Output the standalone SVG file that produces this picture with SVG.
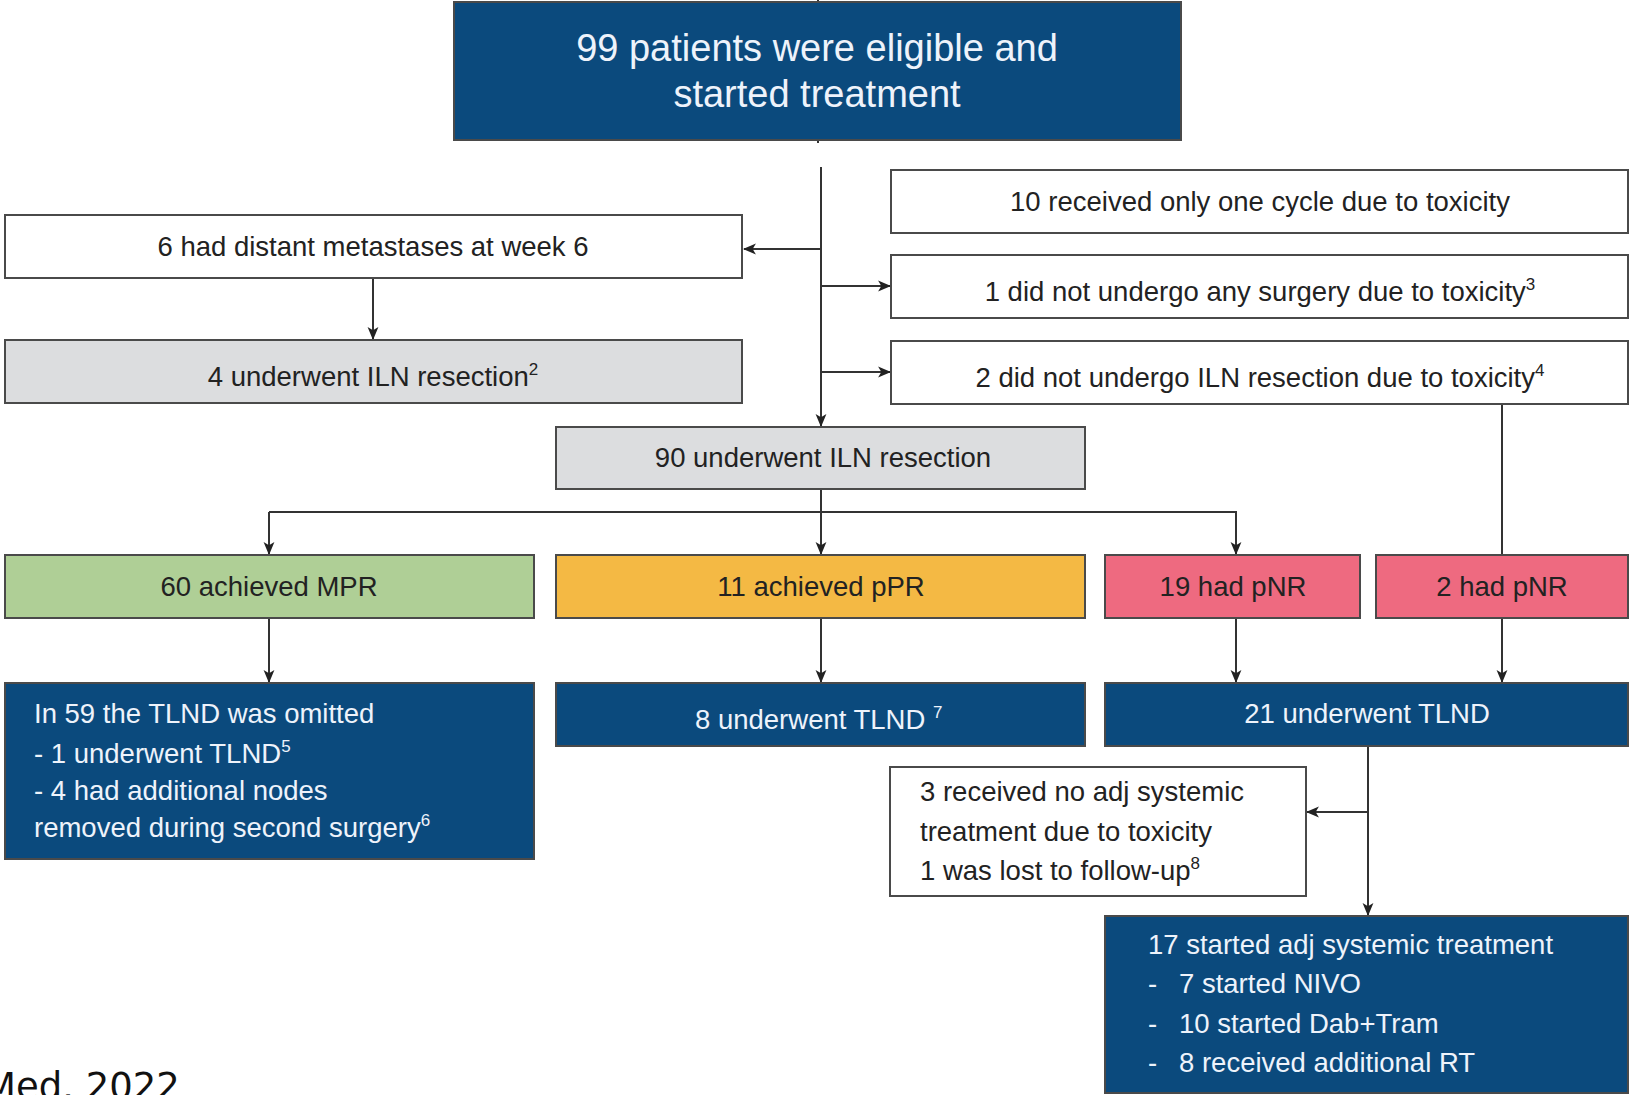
<svg xmlns="http://www.w3.org/2000/svg" width="1632" height="1095" viewBox="0 0 1632 1095">
<defs>
<style>
.b{stroke:#4a4a4a;stroke-width:2}
.w{fill:#ffffff}
.g{fill:#dcdddf}
.bl{fill:#0b4a7d}
.gr{fill:#afcf96}
.or{fill:#f4b944}
.pk{fill:#ee6a80}
text{font-family:"Liberation Sans",Arial,sans-serif;font-size:27.5px;fill:#222}
.c{text-anchor:middle}
.wt{fill:#eef3fb}
.sup{font-size:17px}
.ln{stroke:#333;stroke-width:2;fill:none}
</style>
<marker id="ah" viewBox="0 0 12 12" refX="11" refY="6" markerWidth="13" markerHeight="13" markerUnits="userSpaceOnUse" orient="auto">
<path d="M0,1 L12,6 L0,11 L3,6 Z" fill="#222"/>
</marker>
</defs>
<rect width="1632" height="1095" fill="#ffffff"/>

<g id="connectors">
<line class="ln" x1="818" y1="0" x2="818" y2="3"/>
<line class="ln" x1="818" y1="140" x2="818" y2="143"/>
<line class="ln" x1="821" y1="167" x2="821" y2="426" marker-end="url(#ah)"/>
<line class="ln" x1="821" y1="249" x2="744" y2="249" marker-end="url(#ah)"/>
<line class="ln" x1="821" y1="286" x2="890" y2="286" marker-end="url(#ah)"/>
<line class="ln" x1="821" y1="372" x2="890" y2="372" marker-end="url(#ah)"/>
<line class="ln" x1="373" y1="278" x2="373" y2="339" marker-end="url(#ah)"/>
<line class="ln" x1="821" y1="489" x2="821" y2="554" marker-end="url(#ah)"/>
<path class="ln" d="M269,512 L1236,512 L1236,554" marker-end="url(#ah)"/>
<line class="ln" x1="269" y1="512" x2="269" y2="554" marker-end="url(#ah)"/>
<line class="ln" x1="1502" y1="404" x2="1502" y2="555"/>
<line class="ln" x1="269" y1="618" x2="269" y2="682" marker-end="url(#ah)"/>
<line class="ln" x1="821" y1="618" x2="821" y2="682" marker-end="url(#ah)"/>
<line class="ln" x1="1236" y1="618" x2="1236" y2="682" marker-end="url(#ah)"/>
<line class="ln" x1="1502" y1="618" x2="1502" y2="682" marker-end="url(#ah)"/>
<line class="ln" x1="1368" y1="746" x2="1368" y2="915" marker-end="url(#ah)"/>
<line class="ln" x1="1368" y1="812" x2="1307" y2="812" marker-end="url(#ah)"/>
</g>

<g id="n-start">
<rect class="b bl" x="454" y="2" width="727" height="138"/>
<text class="c wt" x="817" y="61" style="font-size:38px">99 patients were eligible and</text>
<text class="c wt" x="817" y="107" style="font-size:38px">started treatment</text>
</g>

<g id="n-distant">
<rect class="b w" x="5" y="215" width="737" height="63"/>
<text class="c" x="373" y="256">6 had distant metastases at week 6</text>
</g>

<g id="n-iln4">
<rect class="b g" x="5" y="340" width="737" height="63"/>
<text class="c" x="373" y="386">4 underwent ILN resection<tspan class="sup" dy="-11">2</tspan></text>
</g>

<g id="n-onecycle">
<rect class="b w" x="891" y="170" width="737" height="63"/>
<text class="c" x="1260" y="211">10 received only one cycle due to toxicity</text>
</g>

<g id="n-nosurgery">
<rect class="b w" x="891" y="255" width="737" height="63"/>
<text class="c" x="1260" y="301">1 did not undergo any surgery due to toxicity<tspan class="sup" dy="-11">3</tspan></text>
</g>

<g id="n-noiln">
<rect class="b w" x="891" y="341" width="737" height="63"/>
<text class="c" x="1260" y="387">2 did not undergo ILN resection due to toxicity<tspan class="sup" dy="-11">4</tspan></text>
</g>

<g id="n-iln90">
<rect class="b g" x="556" y="427" width="529" height="62"/>
<text class="c" x="823" y="467">90 underwent ILN resection</text>
</g>

<g id="n-mpr">
<rect class="b gr" x="5" y="555" width="529" height="63"/>
<text class="c" x="269" y="596">60 achieved MPR</text>
</g>

<g id="n-ppr">
<rect class="b or" x="556" y="555" width="529" height="63"/>
<text class="c" x="821" y="596">11 achieved pPR</text>
</g>

<g id="n-pnr19">
<rect class="b pk" x="1105" y="555" width="255" height="63"/>
<text class="c" x="1233" y="596">19 had pNR</text>
</g>

<g id="n-pnr2">
<rect class="b pk" x="1376" y="555" width="252" height="63"/>
<text class="c" x="1502" y="596">2 had pNR</text>
</g>

<g id="n-omitted">
<rect class="b bl" x="5" y="683" width="529" height="176"/>
<text class="wt" x="34" y="723">In 59 the TLND was omitted</text>
<text class="wt" x="34" y="763">- 1 underwent TLND<tspan class="sup" dy="-11">5</tspan></text>
<text class="wt" x="34" y="800">- 4 had additional nodes</text>
<text class="wt" x="34" y="837">removed during second surgery<tspan class="sup" dy="-11">6</tspan></text>
</g>

<g id="n-tlnd8">
<rect class="b bl" x="556" y="683" width="529" height="63"/>
<text class="wt" x="695" y="729">8 underwent TLND <tspan class="sup" dy="-11">7</tspan></text>
</g>

<g id="n-tlnd21">
<rect class="b bl" x="1105" y="683" width="523" height="63"/>
<text class="c wt" x="1367" y="723">21 underwent TLND</text>
</g>

<g id="n-noadj">
<rect class="b w" x="890" y="767" width="416" height="129"/>
<text x="920" y="801">3 received no adj systemic</text>
<text x="920" y="841">treatment due to toxicity</text>
<text x="920" y="880">1 was lost to follow-up<tspan class="sup" dy="-11">8</tspan></text>
</g>

<g id="n-adj">
<rect class="b bl" x="1105" y="916" width="523" height="177"/>
<text class="wt" x="1148" y="954">17 started adj systemic treatment</text>
<text class="wt" x="1148" y="993">-</text>
<text class="wt" x="1179" y="993">7 started NIVO</text>
<text class="wt" x="1148" y="1033">-</text>
<text class="wt" x="1179" y="1033">10 started Dab+Tram</text>
<text class="wt" x="1148" y="1072">-</text>
<text class="wt" x="1179" y="1072">8 received additional RT</text>
</g>

<text x="-16" y="1099" style="font-family:'DejaVu Sans',sans-serif;font-size:37px;fill:#111">Med. 2022</text>
</svg>
